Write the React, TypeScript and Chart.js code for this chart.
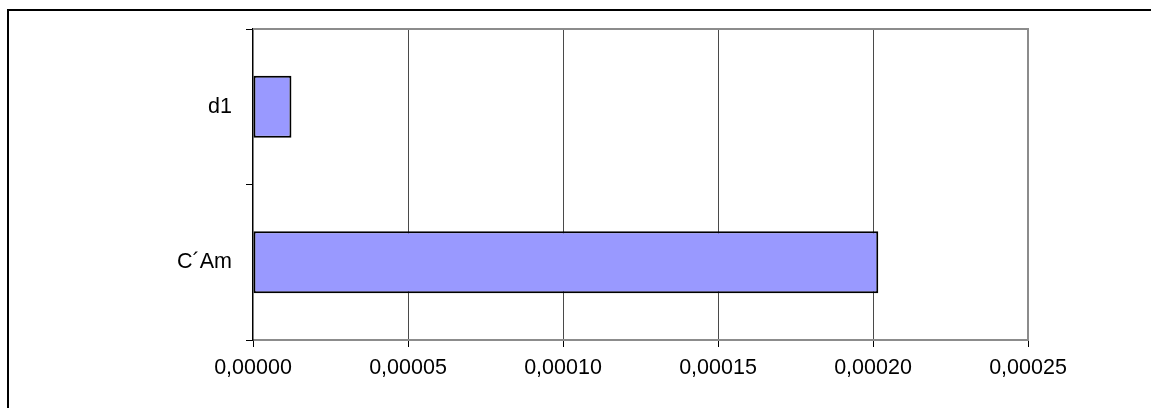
import React, { useEffect, useRef } from "react";
import { Chart, registerables } from "chart.js";

Chart.register(...registerables);

const categories: string[] = ["d1", "C\u00B4Am"];
const values: number[] = [0.0000124, 0.0002017];
const xTickLabels: string[] = ["0,00000", "0,00005", "0,00010", "0,00015", "0,00020", "0,00025"];
const xMin = 0;
const xMax = 0.00025;
const xStep = 0.00005;

const plotFramePlugin = {
  id: "plotFrame",
  afterDatasetsDraw(chart: any) {
    const { ctx, chartArea } = chart;
    ctx.save();
    ctx.strokeStyle = "#8c8c8c";
    ctx.lineWidth = 2;
    ctx.beginPath();
    ctx.moveTo(chartArea.left, chartArea.top);
    ctx.lineTo(chartArea.right, chartArea.top);
    ctx.lineTo(chartArea.right, chartArea.bottom);
    ctx.stroke();
    ctx.restore();
  },
};

export default function App() {
  const canvasRef = useRef<HTMLCanvasElement | null>(null);

  useEffect(() => {
    if (!canvasRef.current) return;
    const font = { family: "'Liberation Sans', Arial, sans-serif", size: 21.5 };
    const chart = new Chart(canvasRef.current, {
      type: "bar",
      data: {
        labels: categories,
        datasets: [
          {
            data: values,
            backgroundColor: "#9999ff",
            borderColor: "#000000",
            borderWidth: 2,
            borderSkipped: false,
            barPercentage: 0.4,
            categoryPercentage: 1.0,
          },
        ],
      },
      options: {
        indexAxis: "y",
        animation: false,
        responsive: false,
        devicePixelRatio: 1,
        layout: { padding: { top: 29, right: 123, left: 0, bottom: 0 } },
        plugins: {
          legend: { display: false },
          tooltip: { enabled: false },
          title: { display: false },
        },
        scales: {
          x: {
            type: "linear",
            min: xMin,
            max: xMax,
            afterFit: (scale: any) => {
              scale.height = 68;
            },
            ticks: {
              stepSize: xStep,
              color: "#000",
              font,
              padding: 8,
              maxRotation: 0,
              callback: (_v: any, i: number) => xTickLabels[i],
            },
            grid: {
              color: (c: any) => {
                const n = xTickLabels.length - 1;
                if (c.index === 0 || c.index === n) return "rgba(0,0,0,0)";
                return "#4a4a4a";
              },
              tickColor: "#000",
              tickLength: 7,
              lineWidth: 1,
            },
            border: { color: "#8c8c8c", width: 2 },
          },
          y: {
            type: "category",
            afterFit: (scale: any) => {
              scale.width = 253;
            },
            ticks: { color: "#000", font, padding: 14 },
            grid: {
              offset: true,
              drawOnChartArea: false,
              tickColor: "#000",
              tickLength: 7,
              lineWidth: 1,
            },
            border: { color: "#000", width: 1.5 },
          },
        },
      },
      plugins: [plotFramePlugin],
    } as any);
    return () => chart.destroy();
  }, []);

  return (
    <div
      style={{
        position: "fixed",
        left: 0,
        top: 0,
        width: 1151,
        height: 408,
        overflow: "hidden",
        background: "#ffffff",
      }}
    >
      <div
        style={{
          position: "absolute",
          left: 7,
          top: 9,
          width: 1300,
          height: 600,
          border: "2px solid #000",
          boxSizing: "border-box",
        }}
      />
      <canvas
        ref={canvasRef}
        width={1151}
        height={408}
        style={{ position: "absolute", left: 0, top: 0, width: 1151, height: 408 }}
      />
    </div>
  );
}
